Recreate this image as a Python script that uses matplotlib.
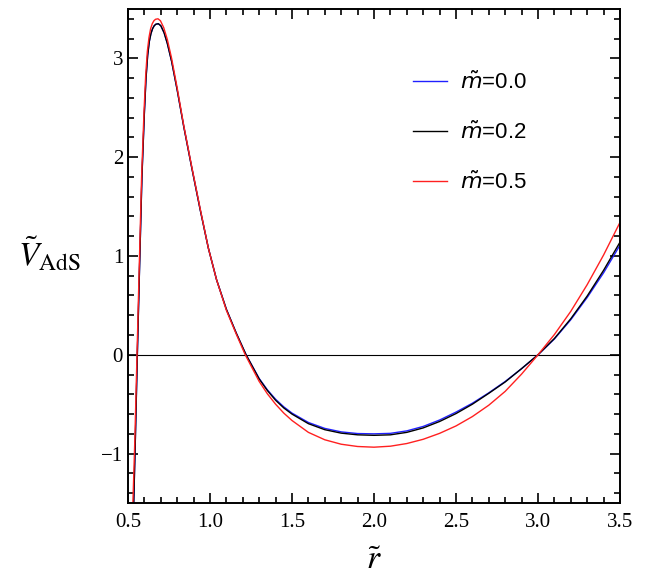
import numpy as np
import matplotlib.pyplot as plt
from matplotlib.font_manager import FontProperties
from matplotlib.ticker import MultipleLocator

# values
r_m00 = [0.535, 0.545, 0.557, 0.570, 0.585, 0.600, 0.610, 0.620, 0.630, 0.640, 0.650,
         0.660, 0.670, 0.685, 0.700, 0.720, 0.740, 0.766, 0.800, 0.840, 0.888, 0.940,
         0.990, 1.040, 1.100, 1.160, 1.220, 1.300, 1.350, 1.400, 1.450, 1.500, 1.600,
         1.700, 1.800, 1.900, 2.000, 2.100, 2.200, 2.300, 2.400, 2.500, 2.600, 2.700,
         2.800, 2.900, 3.000, 3.100, 3.200, 3.300, 3.400, 3.500]
V_m00 = [-1.50, -0.85, 0.00, 0.85, 1.80, 2.45, 2.80, 3.03, 3.17, 3.25, 3.30,
         3.33, 3.345, 3.35, 3.33, 3.26, 3.15, 2.97, 2.68, 2.31, 1.90, 1.47,
         1.08, 0.76, 0.46, 0.22, 0.00, -0.24, -0.355, -0.45, -0.527, -0.59, -0.685,
         -0.745, -0.78, -0.797, -0.80, -0.795, -0.77, -0.725, -0.66, -0.58, -0.49, -0.385,
         -0.27, -0.14, 0.00, 0.16, 0.355, 0.58, 0.83, 1.11]

r_m02 = r_m00
V_m02 = [-1.50, -0.85, 0.00, 0.85, 1.80, 2.45, 2.80, 3.03, 3.17, 3.25, 3.30,
         3.33, 3.345, 3.35, 3.33, 3.26, 3.15, 2.97, 2.68, 2.31, 1.90, 1.47,
         1.08, 0.76, 0.46, 0.22, 0.00, -0.245, -0.362, -0.46, -0.538, -0.60, -0.697,
         -0.758, -0.793, -0.81, -0.815, -0.81, -0.785, -0.74, -0.675, -0.595, -0.50, -0.39,
         -0.275, -0.14, 0.00, 0.165, 0.365, 0.595, 0.855, 1.14]

r_m05 = [0.530, 0.542, 0.555, 0.568, 0.583, 0.598, 0.608, 0.618, 0.628, 0.638, 0.648,
         0.658, 0.668, 0.683, 0.698, 0.718, 0.740, 0.766, 0.800, 0.840, 0.888, 0.940,
         0.990, 1.040, 1.100, 1.160, 1.215, 1.300, 1.350, 1.400, 1.450, 1.500, 1.600,
         1.700, 1.800, 1.900, 2.000, 2.100, 2.200, 2.300, 2.400, 2.500, 2.600, 2.700,
         2.800, 2.900, 3.000, 3.100, 3.200, 3.300, 3.400, 3.500]
V_m05 = [-1.50, -0.85, 0.00, 0.85, 1.80, 2.47, 2.83, 3.07, 3.21, 3.30, 3.35,
         3.38, 3.395, 3.40, 3.38, 3.31, 3.19, 3.00, 2.70, 2.32, 1.91, 1.48,
         1.08, 0.76, 0.45, 0.21, 0.00, -0.27, -0.395, -0.50, -0.59, -0.665, -0.785,
         -0.86, -0.905, -0.928, -0.935, -0.925, -0.898, -0.855, -0.795, -0.72, -0.625, -0.51,
         -0.37, -0.195, 0.00, 0.205, 0.44, 0.71, 1.01, 1.34]

plt.rcParams['font.family'] = 'Liberation Serif'
plt.rcParams['mathtext.fontset'] = 'stix'

fig = plt.figure(figsize=(6.48, 5.82), dpi=100)
ax = fig.add_axes([0.1975, 0.1357, 0.7593, 0.849])

ax.axhline(0, color='black', lw=0.8)
ax.plot(r_m00, V_m00, color='#2020ff', lw=1.0, label=r'$\tilde{m}$=0.0')
ax.plot(r_m02, V_m02, color='black', lw=1.0, label=r'$\tilde{m}$=0.2')
ax.plot(r_m05, V_m05, color='#ff2020', lw=1.0, label=r'$\tilde{m}$=0.5')

ax.set_xlim(0.5, 3.5)
ax.set_ylim(-1.5, 3.5)
ax.xaxis.set_minor_locator(MultipleLocator(0.1))
ax.yaxis.set_minor_locator(MultipleLocator(0.2))
ax.set_xticks([0.5, 1.0, 1.5, 2.0, 2.5, 3.0, 3.5])
ax.set_xticklabels(['0.5', '1.0', '1.5', '2.0', '2.5', '3.0', '3.5'])
ax.set_yticks([-1, 0, 1, 2, 3])
ax.set_yticklabels(['\u22121', '0', '1', '2', '3'])
ax.tick_params(which='both', direction='in', top=True, right=True, labelsize=15, width=1.2)
ax.tick_params(which='major', length=7)
ax.tick_params(which='minor', length=4)
ax.tick_params(axis='x', pad=7)
for s in ax.spines.values():
    s.set_linewidth(1.4)

ax.set_xlabel(r'$\tilde{r}$', fontsize=24, labelpad=10)
ax.set_ylabel(r'$\tilde{V}_{\rm AdS}$', fontsize=24, rotation=0, labelpad=0)
ax.yaxis.set_label_coords(-0.16, 0.465)

leg = ax.legend(loc='upper left', bbox_to_anchor=(0.539, 0.913), frameon=False,
                handlelength=1.5, handletextpad=0.6, labelspacing=1.25,
                prop=FontProperties(family='Liberation Sans', size=16, math_fontfamily='dejavusans'))

fig.savefig('out.png', dpi=100)
